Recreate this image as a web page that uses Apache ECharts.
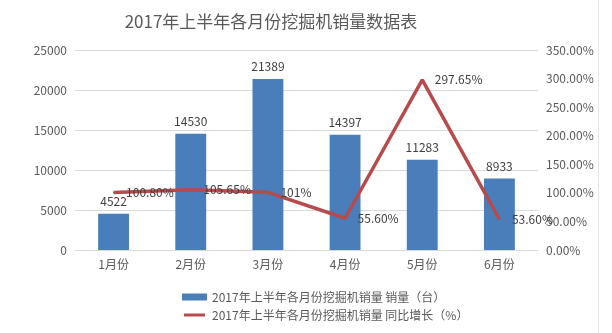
<!DOCTYPE html>
<html>
<head>
<meta charset="utf-8">
<script src="https://cdn.jsdelivr.net/npm/echarts@6/dist/echarts.min.js"></script>
<style>
  html, body { margin: 0; padding: 0; background: #fff; }
  #chart { width: 612px; height: 333px; }
</style>
</head>
<body>
<div id="chart"></div>
<script>
// 2017年上半年挖掘机月销量与同比增长
const months = ['1月份', '2月份', '3月份', '4月份', '5月份', '6月份'];
const sales = [4522, 14530, 21389, 14397, 11283, 8933];
const growth = [100.80, 105.65, 101, 55.60, 297.65, 53.60];
const growthLabels = ['100.80%', '105.65%', '101%', '55.60%', '297.65%', '53.60%'];
const salesName = '2017年上半年各月份挖掘机销量 销量（台）';
const growthName = '2017年上半年各月份挖掘机销量 同比增长（%）';

const font = '"Noto Sans CJK SC", "Microsoft YaHei", sans-serif';
const textColor = '#595959';
const lineColor = '#b64a4c';

const chart = echarts.init(document.getElementById('chart'), null, { renderer: 'canvas' });
chart.setOption({
  animation: false,
  textStyle: { fontFamily: font },
  title: {
    text: '2017年上半年各月份挖掘机销量数据表',
    left: 266, top: 8, textAlign: 'center',
    textStyle: { fontFamily: font, fontSize: 17, fontWeight: 'normal', color: textColor }
  },
  grid: { left: 75, right: 74, top: 50, bottom: 83 },
  legend: {
    orient: 'vertical',
    left: 175, top: 286,
    itemWidth: 25, itemHeight: 7, itemGap: 6,
    textStyle: { fontFamily: font, fontSize: 12, color: textColor },
    data: [
      { name: salesName, icon: 'rect' },
      // thin line swatch: a rect inset by a white border
      {
        name: growthName, icon: 'rect',
        itemStyle: { color: lineColor, borderColor: '#ffffff', borderWidth: 4 }
      }
    ]
  },
  xAxis: {
    type: 'category',
    data: months,
    axisLine: { lineStyle: { color: '#d9d9d9' } },
    axisTick: { show: false },
    axisLabel: { color: textColor, fontSize: 12, margin: 8, fontFamily: font }
  },
  yAxis: [
    {
      type: 'value', min: 0, max: 25000, interval: 5000,
      axisLine: { show: false }, axisTick: { show: false },
      axisLabel: {
        color: textColor, fontSize: 12, margin: 8, fontFamily: font,
        formatter: v => String(v)
      },
      splitLine: { lineStyle: { color: '#d9d9d9' } }
    },
    {
      type: 'value', min: 0, max: 350, interval: 50,
      axisLine: { show: false }, axisTick: { show: false },
      axisLabel: {
        color: textColor, fontSize: 12, margin: 8, fontFamily: font,
        formatter: v => v.toFixed(2) + '%'
      },
      splitLine: { show: false }
    }
  ],
  series: [
    {
      name: salesName,
      type: 'bar',
      data: sales,
      barWidth: '40%',
      itemStyle: { color: '#4a7ebb' },
      label: {
        show: true, position: 'top', distance: 6,
        color: '#404040', fontSize: 12, fontFamily: font
      },
      z: 2
    },
    {
      name: growthName,
      type: 'line',
      yAxisIndex: 1,
      data: growth,
      symbol: 'circle',
      symbolSize: 1,
      showSymbol: true,
      lineStyle: { color: lineColor, width: 3.5 },
      itemStyle: { color: lineColor },
      label: {
        show: true, position: 'right', distance: 12,
        color: '#404040', fontSize: 12, fontFamily: font,
        formatter: p => growthLabels[p.dataIndex]
      },
      z: 3
    }
  ],
  graphic: [
    {
      type: 'line',
      shape: { x1: 598.5, y1: 0, x2: 598.5, y2: 333 },
      style: { stroke: '#e6e6e6', lineWidth: 1 }
    }
  ]
});
</script>
</body>
</html>
